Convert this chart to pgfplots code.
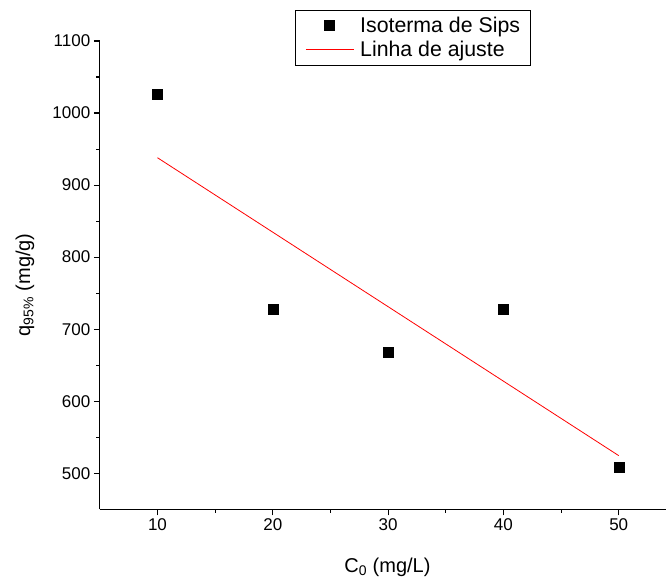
\documentclass[border=0pt]{standalone}
\usepackage{fontspec}
\setmainfont{Liberation Sans}
\usepackage{pgfplots}
\pgfplotsset{compat=1.18}
\pgfplotsset{
  legmark/.style={legend image code/.code={\draw[mark repeat=2,mark phase=2,##1] plot coordinates {(0pt,0pt)(24pt,0pt)(48pt,0pt)};}},
  legline/.style={legend image code/.code={\draw[##1] (0pt,0pt) -- (48pt,0pt);}},
}
\begin{document}
\begin{tikzpicture}
\begin{axis}[
  name=ax,
  scale only axis,
  width=566.2pt, height=468.3pt,
  xmin=5, xmax=54.1, ymin=450, ymax=1100,
  axis lines=left,
  axis line style={-, line width=1.1pt},
  xtick={10,20,30,40,50},
  ytick={500,600,...,1100},
  minor x tick num=1, minor y tick num=1,
  tick align=outside,
  major tick length=6pt, minor tick length=3.5pt,
  tick style={line width=1.1pt, black},
  ticklabel style={font=\fontsize{17}{20}\selectfont},
  /pgf/number format/assume math mode=true,
  /pgf/number format/1000 sep={},
  xlabel={C\textsubscript{0} (mg/L)},
  ylabel={q\textsubscript{95\%} (mg/g)},
  every axis x label/.style={at={(axis description cs:0.508,-0.1238)}, anchor=center, font=\fontsize{20}{24}\selectfont},
  every axis y label/.style={at={(axis description cs:-0.132,0.479)}, rotate=90, anchor=center, font=\fontsize{20}{24}\selectfont},
  legend style={draw=black, line width=0.8pt, at={(axis description cs:0,1)}, anchor=north west,
    xshift=195.2pt, yshift=31pt, font=\fontsize{21.3}{24}\selectfont,
    nodes={inner sep=0pt}, inner xsep=10pt, inner ysep=7pt, row sep=7pt, column sep=6pt, cells={anchor=west}},
]
\addplot[only marks, mark=square*, mark size=5pt, black, legmark]
  coordinates {(10,1026)(20,728)(30,668)(40,728)(50,509)};
\addlegendentry{Isoterma de Sips}
\addplot[red, line width=0.8pt, no marks, legline]
  coordinates {(10,938)(50,524.5)};
\addlegendentry{Linha de ajuste}
\end{axis}
\pgfresetboundingbox
\path ([shift={(-99.8pt,-73.7pt)}]ax.south west) rectangle ([shift={(0pt,41pt)}]ax.north east);
\end{tikzpicture}
\end{document}
